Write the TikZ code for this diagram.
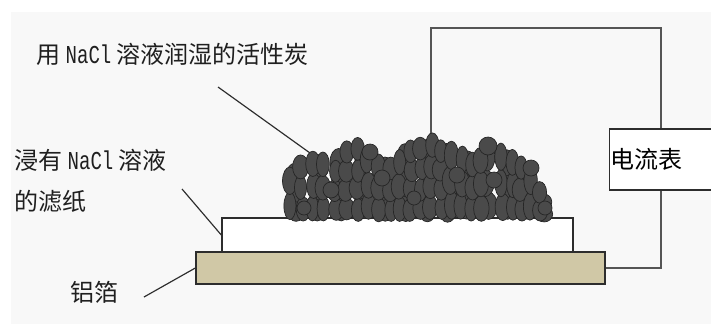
\documentclass[tikz,border=0pt]{standalone}
\usepackage{fontspec}
\usepackage{graphicx}
\setmonofont{Liberation Mono}
\newfontfamily\cjk{Noto Sans CJK SC}
\usetikzlibrary{positioning}
\definecolor{colpanel}{RGB}{248,248,248}
\definecolor{colfoil}{RGB}{208,200,166}
\definecolor{colgrain}{RGB}{74,74,74}
\definecolor{colline}{RGB}{45,45,45}
\definecolor{colwire}{RGB}{85,85,85}
\newcommand\nacl{\scalebox{0.74}[1]{\ttfamily\fontsize{22pt}{22pt}\selectfont NaCl}}
\tikzset{
  % LABELS
  frameLabel/.style={
    anchor=base west, inner sep=0pt, align=left,
    text=black!88,
    font=\cjk\fontsize{20.5pt}{35pt}\selectfont
  },
  % ALUMINIUM FOIL
  frameFoil/.style={
    rectangle, draw=colline, fill=colfoil, line width=1.2pt,
    minimum width=12.27cm, minimum height=0.96cm, inner sep=0pt
  },
  % FILTER PAPER
  framePaper/.style={
    rectangle, draw=colline, fill=white, line width=1.2pt,
    minimum width=10.53cm, minimum height=1.02cm, inner sep=0pt
  },
  % AMMETER
  frameMeter/.style={
    rectangle, draw=colline, fill=white, line width=1pt,
    text width=3.8cm, align=left, minimum height=1.83cm,
    inner xsep=0.04cm, inner ysep=0pt,
    font=\cjk\fontsize{20.5pt}{24pt}\selectfont
  },
  grain/.style={draw=black!85, fill=colgrain, line width=0.6pt},
  lineWire/.style={draw=colwire, line width=1.2pt},
  lineLead/.style={draw=colline, line width=1pt}
}

\begin{document}
\begin{tikzpicture}[x=0.03cm,y=-0.03cm]
\useasboundingbox (0,0) rectangle (711,324);
\clip (0,0) rectangle (711,324);
\fill[colpanel] (11,12) rectangle (711,324);

% foil and paper
\node [frameFoil] (foil) at (400.5,268) {};
\node [framePaper] (paper) at (397.5,235) {};

% circuit
\coordinate (wireCorner) at (661,28);
\coordinate (wireEnd) at (431,136);
\path [lineWire] (foil.east) -| (wireCorner) -| (wireEnd);
\node [frameMeter] (meter) at (674,159.5) {电流表};

% labels
\node [frameLabel] (carbonLabel) at (36,63) {用 \nacl{} 溶液润湿的活性炭};
\node [frameLabel] (paperLabel) at (14,210) {浸有 \nacl{} 溶液\\的滤纸};
\node [frameLabel] (foilLabel) at (70,301) {铝箔};

\coordinate (carbonTail) at (218,87);
\coordinate (carbonTip) at (310,153);
\coordinate (paperTail) at (182,189);
\coordinate (foilTail) at (144,297);
\path [lineLead] (carbonTail) -- (carbonTip);
\path [lineLead] (paperTail) -- (paper.west);
\path [lineLead] (foilTail) -- (foil.west);

% activated carbon grains, back layer then front layer
\pgfmathsetseed{11}
\foreach \cx/\ctop in {296/166,318/156,340/148,362/148,384/158,405/146,426/140,447/144,467/152,487/146,508/150,528/164,543/194}{
  \pgfmathtruncatemacro\nrow{max(2,round((219-\ctop)/21))}
  \pgfmathsetmacro\hrow{(219-\ctop)/\nrow}
  \foreach \k in {1,...,\nrow}{
    \pgfmathsetmacro\rx{8+rand}
    \pgfmathsetmacro\ry{\hrow/2+1.5}
    \pgfmathsetmacro\gx{\cx+rand*2}
    \pgfmathsetmacro\gy{219-(\k-0.5)*\hrow+rand*2}
    \path [grain] (\gx,\gy) ellipse [x radius=\rx, y radius=\ry];
  }
}
\foreach \cx/\ctop in {290/170,302/156,313/152,324/154,335/162,346/142,357/140,368/150,379/154,390/160,400/152,411/140,421/140,431/133,441/140,451/143,461/149,472/154,482/150,502/146,512/150,521/158,531/170,540/182}{
  \pgfmathtruncatemacro\nrow{max(2,round((219-\ctop)/22))}
  \pgfmathsetmacro\hrow{(219-\ctop)/\nrow}
  \foreach \k in {1,...,\nrow}{
    \pgfmathsetmacro\rx{7+rand}
    \pgfmathsetmacro\ry{\hrow/2+1.5}
    \pgfmathsetmacro\gx{\cx+rand*1.5}
    \pgfmathsetmacro\gy{219-(\k-0.5)*\hrow+rand*1.5}
    \path [grain] (\gx,\gy) ellipse [x radius=\rx, y radius=\ry];
  }
}
% round grains
\foreach \gx/\gy/\r in {370/152/8,488/146/9,531/168/8,331/190/8,382/178/8,457/175/8,414/198/7,545/208/7,304/208/7,494/180/8}{
  \path [grain] (\gx,\gy) circle [radius=\r];
}

\end{tikzpicture}
\end{document}
